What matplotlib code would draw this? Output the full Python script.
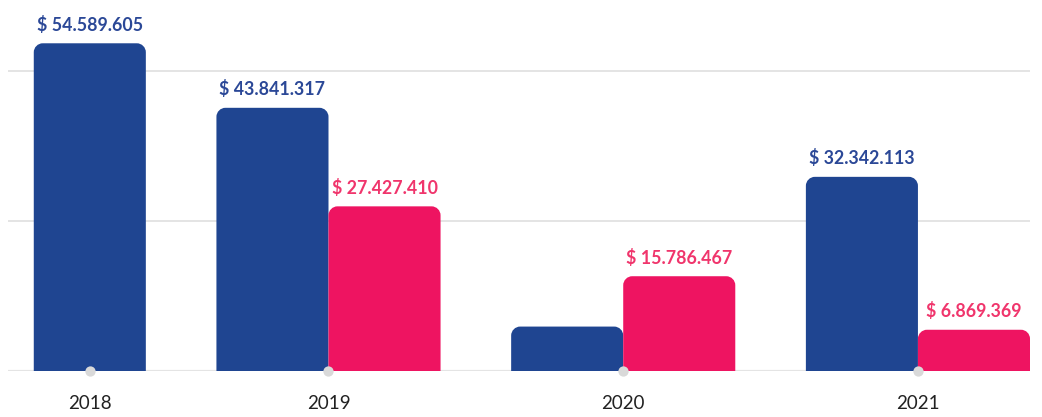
import numpy as np
import matplotlib
matplotlib.use('Agg')
import matplotlib.pyplot as plt
from matplotlib.path import Path
from matplotlib.patches import PathPatch

years = ['2018', '2019', '2020', '2021']
# None = no bar for that year
blue_values = [54589605, 43841317, 7400000, 32342113]
pink_values = [None, 27427410, 15786467, 6869369]
blue_labels = ['$ 54.589.605', '$ 43.841.317', None, '$ 32.342.113']
pink_labels = [None, '$ 27.427.410', '$ 15.786.467', '$ 6.869.369']

BLUE = '#1f4591'
PINK = '#ee1461'
BLUE_TXT = '#2b4897'
PINK_TXT = '#f0356c'
GRID = '#e4e4e4'

plt.rcParams['font.family'] = ['Lato', 'DejaVu Sans']

fig = plt.figure(figsize=(10.42, 4.17), dpi=100)
ax = fig.add_axes([8 / 1042, 46 / 417, 1022 / 1042, 371 / 417])

ymax = 61.8e6
ax.set_xlim(-0.73, 8.39)
ax.set_ylim(0, ymax)


def rounded_bar(ax, x0, w, h, color, r_px=9):
    # bar with rounded top corners, radius given in pixels
    bbox = ax.get_window_extent()
    xl = ax.get_xlim(); yl = ax.get_ylim()
    rx = r_px * (xl[1] - xl[0]) / bbox.width
    ry = r_px * (yl[1] - yl[0]) / bbox.height
    ry = min(ry, h / 2)
    k = 0.5523
    x1 = x0 + w
    verts = [
        (x0, 0), (x0, h - ry),
        (x0, h - ry + k * ry), (x0 + rx - k * rx, h), (x0 + rx, h),
        (x1 - rx, h),
        (x1 - rx + k * rx, h), (x1, h - ry + k * ry), (x1, h - ry),
        (x1, 0), (x0, 0),
    ]
    codes = [Path.MOVETO, Path.LINETO,
             Path.CURVE4, Path.CURVE4, Path.CURVE4,
             Path.LINETO,
             Path.CURVE4, Path.CURVE4, Path.CURVE4,
             Path.LINETO, Path.CLOSEPOLY]
    ax.add_patch(PathPatch(Path(verts, codes), facecolor=color,
                           edgecolor='none', zorder=3))


# group centres: each group is as wide as its number of bars
gap = 0.63
counts = [sum(v is not None for v in pair) for pair in zip(blue_values, pink_values)]
centers = []
pos = 0.0
for i, n in enumerate(counts):
    if i > 0:
        pos += counts[i - 1] / 2 + gap + n / 2
    centers.append(pos)

for c in (25e6, 50e6):
    ax.axhline(c, color=GRID, lw=1.4, zorder=1)
ax.axhline(0, color=GRID, lw=1.6, zorder=1)

for i, c in enumerate(centers):
    b, p = blue_values[i], pink_values[i]
    if p is None:
        bx = [(c - 0.5, b, BLUE, blue_labels[i], BLUE_TXT)]
    else:
        bx = [(c - 1.0, b, BLUE, blue_labels[i], BLUE_TXT),
              (c, p, PINK, pink_labels[i], PINK_TXT)]
    for x0, v, col, lab, tcol in bx:
        rounded_bar(ax, x0, 1.0, v, col)
        if lab:
            ax.annotate(lab, (x0 + 0.5, v), xytext=(0, 7), textcoords='offset points',
                        ha='center', va='bottom', fontsize=12.8, fontweight='bold',
                        color=tcol, zorder=5)

ax.scatter(centers, [0] * len(centers), s=55, color='#d9d9d9', zorder=4,
           clip_on=False, linewidths=0)

ax.set_xticks(centers)
ax.set_xticklabels(years, fontsize=13.5, color='#222222')
ax.tick_params(axis='x', length=0, pad=17)
ax.set_yticks([])
for s in ax.spines.values():
    s.set_visible(False)

fig.savefig('out.png', dpi=100, facecolor='white')
